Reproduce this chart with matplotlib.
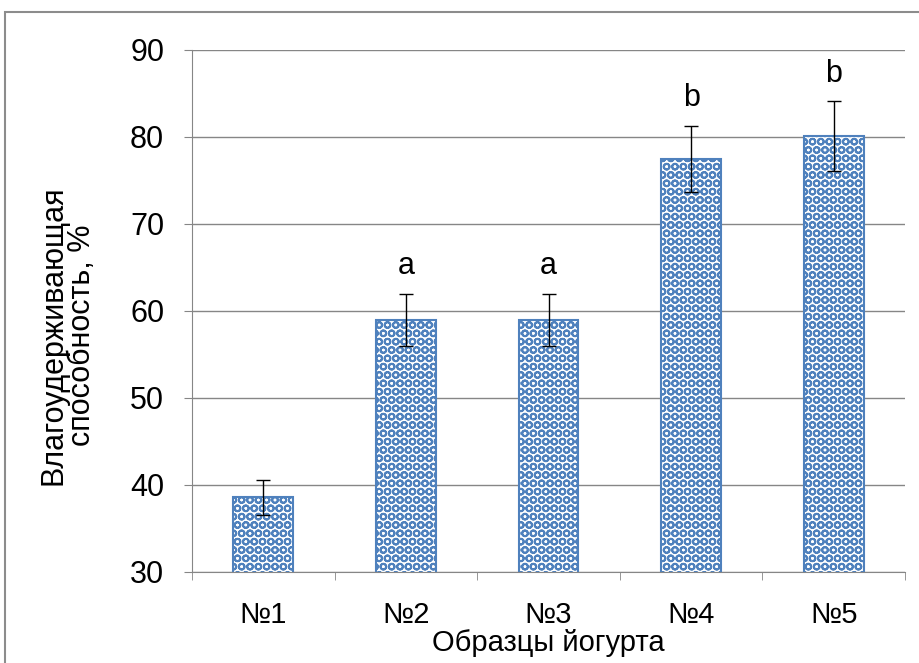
import matplotlib
matplotlib.use('Agg')
import matplotlib.pyplot as plt
from matplotlib.patches import Rectangle

plt.rcParams['font.family'] = ['Liberation Sans', 'DejaVu Sans']
plt.rcParams['hatch.color'] = '#4F81BD'
plt.rcParams['hatch.linewidth'] = 1.4

samples = ['№1', '№2', '№3', '№4', '№5']
capacity = [38.6, 59.0, 59.0, 77.5, 80.1]
errors = [2.0, 3.0, 3.0, 3.8, 4.0]
letters = ['', 'a', 'a', 'b', 'b']

fs = 22
fs_x = 21

fig = plt.figure(figsize=(9.2, 6.63), dpi=100)
ax = fig.add_axes([0.2087, 0.1373, 0.775, 0.7873])

# outer chart frame (partially cut at the right and bottom)
fig.patches.append(Rectangle((5 / 920, -0.1), 1.2, (663 - 12) / 663 + 0.1,
                             transform=fig.transFigure, fill=False,
                             edgecolor='#8C8C8C', linewidth=1.5))

x = range(len(samples))
ax.bar(x, capacity, width=0.42, color='white', edgecolor='#4F81BD',
       hatch='OO', linewidth=1.5, zorder=2)
ax.errorbar(x, capacity, yerr=errors, fmt='none', ecolor='black',
            elinewidth=1, capsize=5, capthick=1, zorder=3)

for i, (v, e, t) in enumerate(zip(capacity, errors, letters)):
    if t:
        ax.text(i, v + e + 1.4, t, ha='center', va='bottom', fontsize=fs)

ax.set_ylim(30, 90)
ax.set_xlim(-0.5, len(samples) - 0.5)
ax.set_yticks(range(30, 91, 10))
ax.yaxis.grid(True, color='#868686', linewidth=1)
ax.set_axisbelow(True)
ax.set_xticks(x)
ax.set_xticklabels(samples)
ax.set_xticks([i + 0.5 for i in range(-1, len(samples))], minor=True)
ax.tick_params(axis='x', which='major', length=0, pad=21, labelsize=fs_x)
ax.tick_params(axis='x', which='minor', length=6, color='#868686')
ax.tick_params(axis='y', length=6, color='#868686', pad=14, labelsize=fs)

for side in ['top', 'right']:
    ax.spines[side].set_visible(False)
for side in ['left', 'bottom']:
    ax.spines[side].set_color('#868686')

ax.set_xlabel('Образцы йогурта', fontsize=fs_x, labelpad=0)
fig.text(68 / 920, 0.495, 'Влагоудерживающая\nспособность, %', fontsize=fs,
         rotation=90, ha='center', va='center', multialignment='center',
         linespacing=0.95)

fig.savefig('out.png', dpi=100)
